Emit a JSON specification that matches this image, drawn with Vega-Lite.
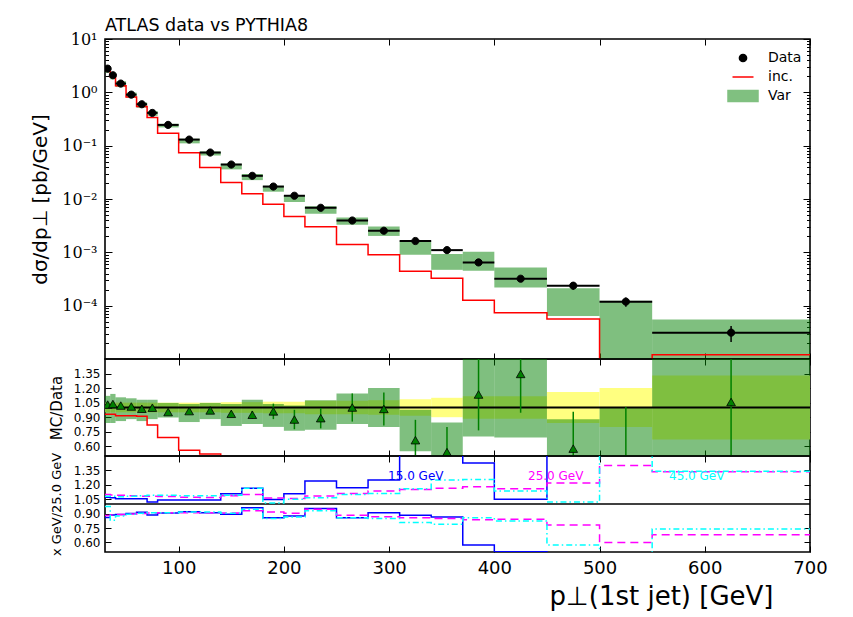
{
  "$schema": "https://vega.github.io/schema/vega-lite/v6.json",
  "background": "white",
  "padding": {"left": 29, "top": 15, "right": 20, "bottom": 5},
  "spacing": 0,
  "bounds": "flush",
  "config": {
    "view": {"stroke": "black", "strokeWidth": 1.6},
    "font": "DejaVu Sans",
    "axis": {"grid": false, "domain": false, "tickColor": "black", "tickWidth": 1, "labelColor": "black", "titleColor": "black", "labelFont": "DejaVu Sans", "titleFont": "DejaVu Sans", "titleFontWeight": "normal"}
  },
  "datasets": {
    "bins": [
      {"s": "Data", "lo": 30, "hi": 35, "x": 32.5, "d": 2.78, "dlo": 2.641, "dhi": 2.919, "vlo": 2.335, "vhi": 3.114, "r": 1.03, "rlo": 1.01, "rhi": 1.05, "rvlo": 0.84, "rvhi": 1.12, "ylo": 0.95, "yhi": 1.05},
      {"s": "Data", "lo": 35, "hi": 40, "x": 37.5, "d": 2.09, "dlo": 1.986, "dhi": 2.195, "vlo": 1.756, "vhi": 2.383, "r": 1.036, "rlo": 1.016, "rhi": 1.056, "rvlo": 0.84, "rvhi": 1.14, "ylo": 0.95, "yhi": 1.05},
      {"s": "Data", "lo": 40, "hi": 50, "x": 45, "d": 1.46, "dlo": 1.387, "dhi": 1.533, "vlo": 1.256, "vhi": 1.613, "r": 1.02, "rlo": 1.0, "rhi": 1.04, "rvlo": 0.86, "rvhi": 1.105, "ylo": 0.95, "yhi": 1.05},
      {"s": "Data", "lo": 50, "hi": 60, "x": 55, "d": 0.905, "dlo": 0.86, "dhi": 0.95, "vlo": 0.796, "vhi": 0.991, "r": 1.01, "rlo": 0.99, "rhi": 1.03, "rvlo": 0.88, "rvhi": 1.095, "ylo": 0.95, "yhi": 1.05},
      {"s": "Data", "lo": 60, "hi": 70, "x": 65, "d": 0.598, "dlo": 0.568, "dhi": 0.628, "vlo": 0.514, "vhi": 0.646, "r": 0.987, "rlo": 0.967, "rhi": 1.007, "rvlo": 0.86, "rvhi": 1.08, "ylo": 0.95, "yhi": 1.05},
      {"s": "Data", "lo": 70, "hi": 80, "x": 75, "d": 0.411, "dlo": 0.39, "dhi": 0.432, "vlo": 0.362, "vhi": 0.444, "r": 0.998, "rlo": 0.978, "rhi": 1.018, "rvlo": 0.88, "rvhi": 1.08, "ylo": 0.95, "yhi": 1.05},
      {"s": "Data", "lo": 80, "hi": 100, "x": 90, "d": 0.245, "dlo": 0.233, "dhi": 0.257, "vlo": 0.22, "vhi": 0.257, "r": 0.953, "rlo": 0.933, "rhi": 0.973, "rvlo": 0.897, "rvhi": 1.047, "ylo": 0.95, "yhi": 1.05},
      {"s": "Data", "lo": 100, "hi": 120, "x": 110, "d": 0.13, "dlo": 0.1235, "dhi": 0.1365, "vlo": 0.1105, "vhi": 0.1347, "r": 0.963, "rlo": 0.943, "rhi": 0.983, "rvlo": 0.85, "rvhi": 1.036, "ylo": 0.95, "yhi": 1.05},
      {"s": "Data", "lo": 120, "hi": 140, "x": 130, "d": 0.0743, "dlo": 0.0706, "dhi": 0.078, "vlo": 0.0654, "vhi": 0.0778, "r": 0.97, "rlo": 0.95, "rhi": 0.99, "rvlo": 0.88, "rvhi": 1.047, "ylo": 0.95, "yhi": 1.05},
      {"s": "Data", "lo": 140, "hi": 160, "x": 150, "d": 0.0443, "dlo": 0.0419, "dhi": 0.0467, "vlo": 0.0359, "vhi": 0.0459, "r": 0.935, "rlo": 0.905, "rhi": 0.965, "rvlo": 0.81, "rvhi": 1.036, "ylo": 0.945, "yhi": 1.055},
      {"s": "Data", "lo": 160, "hi": 180, "x": 170, "d": 0.0272, "dlo": 0.0257, "dhi": 0.0287, "vlo": 0.0226, "vhi": 0.0294, "r": 0.925, "rlo": 0.885, "rhi": 0.965, "rvlo": 0.83, "rvhi": 1.08, "ylo": 0.945, "yhi": 1.055},
      {"s": "Data", "lo": 180, "hi": 200, "x": 190, "d": 0.0171, "dlo": 0.01607, "dhi": 0.01813, "vlo": 0.0137, "vhi": 0.0177, "r": 0.96, "rlo": 0.88, "rhi": 1.04, "rvlo": 0.8, "rvhi": 1.036, "ylo": 0.94, "yhi": 1.06},
      {"s": "Data", "lo": 200, "hi": 220, "x": 210, "d": 0.0115, "dlo": 0.01081, "dhi": 0.01219, "vlo": 0.00874, "vhi": 0.01173, "r": 0.876, "rlo": 0.776, "rhi": 0.976, "rvlo": 0.76, "rvhi": 1.02, "ylo": 0.94, "yhi": 1.06},
      {"s": "Data", "lo": 220, "hi": 250, "x": 235, "d": 0.00684, "dlo": 0.00636, "dhi": 0.00732, "vlo": 0.00527, "vhi": 0.00735, "r": 0.89, "rlo": 0.785, "rhi": 0.995, "rvlo": 0.77, "rvhi": 1.075, "ylo": 0.93, "yhi": 1.07},
      {"s": "Data", "lo": 250, "hi": 280, "x": 265, "d": 0.00395, "dlo": 0.00367, "dhi": 0.00423, "vlo": 0.00328, "vhi": 0.00452, "r": 1.0, "rlo": 0.855, "rhi": 1.145, "rvlo": 0.83, "rvhi": 1.145, "ylo": 0.93, "yhi": 1.07},
      {"s": "Data", "lo": 280, "hi": 310, "x": 295, "d": 0.00254, "dlo": 0.00235, "dhi": 0.00273, "vlo": 0.00203, "vhi": 0.00305, "r": 0.985, "rlo": 0.815, "rhi": 1.155, "rvlo": 0.8, "rvhi": 1.2, "ylo": 0.925, "yhi": 1.075},
      {"s": "Data", "lo": 310, "hi": 340, "x": 325, "d": 0.00163, "dlo": 0.00149, "dhi": 0.00177, "vlo": 0.000897, "vhi": 0.00159, "r": 0.663, "rlo": 0.453, "rhi": 0.873, "rvlo": 0.55, "rvhi": 0.977, "ylo": 0.915, "yhi": 1.085},
      {"s": "Data", "lo": 340, "hi": 370, "x": 355, "d": 0.0011, "dlo": 0.00099, "dhi": 0.00121, "vlo": 0.00047, "vhi": 0.00093, "r": 0.54, "rlo": 0.28, "rhi": 0.8, "rvlo": 0.43, "rvhi": 0.845, "ylo": 0.9, "yhi": 1.1},
      {"s": "Data", "lo": 370, "hi": 400, "x": 385, "d": 0.000647, "dlo": 0.000573, "dhi": 0.000721, "vlo": 0.00045, "vhi": 0.00102, "r": 1.134, "rlo": 0.764, "rhi": 1.52, "rvlo": 0.7, "rvhi": 1.58, "ylo": 0.885, "yhi": 1.115},
      {"s": "Data", "lo": 400, "hi": 450, "x": 425, "d": 0.00032, "dlo": 0.000283, "dhi": 0.000357, "vlo": 0.00022, "vhi": 0.00052, "r": 1.346, "rlo": 0.946, "rhi": 1.746, "rvlo": 0.69, "rvhi": 1.63, "ylo": 0.885, "yhi": 1.115},
      {"s": "Data", "lo": 450, "hi": 500, "x": 475, "d": 0.000237, "dlo": 0.000199, "dhi": 0.000275, "vlo": 0.000064, "vhi": 0.000211, "r": 0.576, "rlo": 0.196, "rhi": 0.956, "rvlo": 0.27, "rvhi": 0.88, "ylo": 0.84, "yhi": 1.16},
      {"s": "Data", "lo": 500, "hi": 550, "x": 525, "d": 0.000119, "dlo": 0.0000952, "dhi": 0.0001428, "vlo": 0.000005, "vhi": 0.000124, "r": 0.45, "rlo": 0.0, "rhi": 1.005, "rvlo": 0.04, "rvhi": 1.0, "ylo": 0.8, "yhi": 1.2},
      {"s": "Data", "lo": 550, "hi": 700, "x": 625, "d": 0.0000312, "dlo": 0.0000209, "dhi": 0.0000415, "vlo": 0.000005, "vhi": 0.000055, "r": 1.057, "rlo": 0.457, "rhi": 1.657, "rvlo": 0.2, "rvhi": 1.76, "ylo": 0.67, "yhi": 1.33}
    ],
    "edges": [
      {"e": 30, "inc": 2.58, "rinc": 0.93, "bu": 1.07, "bd": 0.86, "mu": 1.1, "md": 0.88, "cu": 1.08, "cd": 0.975},
      {"e": 35, "inc": 1.94, "rinc": 0.93, "bu": 1.065, "bd": 0.885, "mu": 1.095, "md": 0.885, "cu": 1.08, "cd": 0.83},
      {"e": 40, "inc": 1.33, "rinc": 0.915, "bu": 1.055, "bd": 0.89, "mu": 1.09, "md": 0.89, "cu": 1.076, "cd": 0.875},
      {"e": 50, "inc": 0.82, "rinc": 0.915, "bu": 1.055, "bd": 0.9, "mu": 1.085, "md": 0.895, "cu": 1.08, "cd": 0.893},
      {"e": 60, "inc": 0.54, "rinc": 0.91, "bu": 1.055, "bd": 0.915, "mu": 1.08, "md": 0.9, "cu": 1.085, "cd": 0.903},
      {"e": 70, "inc": 0.337, "rinc": 0.82, "bu": 1.021, "bd": 0.885, "mu": 1.08, "md": 0.905, "cu": 1.09, "cd": 0.91},
      {"e": 80, "inc": 0.171, "rinc": 0.69, "bu": 1.041, "bd": 0.905, "mu": 1.078, "md": 0.91, "cu": 1.09, "cd": 0.91},
      {"e": 100, "inc": 0.0733, "rinc": 0.56, "bu": 1.041, "bd": 0.92, "mu": 1.07, "md": 0.91, "cu": 1.085, "cd": 0.917},
      {"e": 120, "inc": 0.0389, "rinc": 0.52, "bu": 1.041, "bd": 0.91, "mu": 1.068, "md": 0.91, "cu": 1.085, "cd": 0.917},
      {"e": 140, "inc": 0.0204, "rinc": 0.46, "bu": 1.107, "bd": 0.893, "mu": 1.085, "md": 0.905, "cu": 1.09, "cd": 0.903},
      {"e": 160, "inc": 0.0125, "rinc": 0.46, "bu": 1.163, "bd": 0.962, "mu": 1.1, "md": 0.93, "cu": 1.165, "cd": 0.945},
      {"e": 180, "inc": 0.008, "rinc": 0.47, "bu": 1.048, "bd": 0.858, "mu": 1.062, "md": 0.917, "cu": 1.01, "cd": 0.848},
      {"e": 200, "inc": 0.0047, "rinc": 0.41, "bu": 1.107, "bd": 0.876, "mu": 1.058, "md": 0.903, "cu": 1.05, "cd": 0.865},
      {"e": 220, "inc": 0.00302, "rinc": 0.44, "bu": 1.239, "bd": 0.952, "mu": 1.083, "md": 0.945, "cu": 1.066, "cd": 0.93},
      {"e": 250, "inc": 0.00141, "rinc": 0.36, "bu": 1.169, "bd": 0.858, "mu": 1.11, "md": 0.882, "cu": 1.1, "cd": 0.858},
      {"e": 280, "inc": 0.0009, "rinc": 0.35, "bu": 1.249, "bd": 0.91, "mu": 1.135, "md": 0.868, "cu": 1.11, "cd": 0.848},
      {"e": 310, "inc": 0.00044, "rinc": 0.27, "bu": 1.7, "bd": 0.882, "mu": 1.152, "md": 0.858, "cu": 1.16, "cd": 0.806},
      {"e": 340, "inc": 0.000325, "rinc": 0.3, "bu": 1.7, "bd": 0.865, "mu": 1.165, "md": 0.85, "cu": 1.25, "cd": 0.79},
      {"e": 370, "inc": 0.000126, "rinc": 0.19, "bu": 1.428, "bd": 0.572, "mu": 1.18, "md": 0.835, "cu": 1.256, "cd": 0.858},
      {"e": 400, "inc": 0.000074, "rinc": 0.23, "bu": 1.049, "bd": 0.503, "mu": 1.16, "md": 0.841, "cu": 1.135, "cd": 0.824},
      {"e": 450, "inc": 0.000056, "rinc": 0.24, "bu": 1.7, "bd": 0.3, "mu": 1.22, "md": 0.78, "cu": 1.02, "cd": 0.572},
      {"e": 500, "inc": 0.0000001, "rinc": 0.0, "bu": 1.7, "bd": 0.3, "mu": 1.4, "md": 0.6, "cu": 1.6, "cd": 0.3},
      {"e": 550, "inc": 0.000012, "rinc": 0.38, "bu": 1.7, "bd": 0.3, "mu": 1.335, "md": 0.68, "cu": 1.34, "cd": 0.74},
      {"e": 700, "inc": 0.000012, "rinc": 0.38, "bu": 1.7, "bd": 0.3, "mu": 1.335, "md": 0.68, "cu": 1.34, "cd": 0.74}
    ],
    "labels": [
      {"x": 299, "y": 1.29, "t": "15.0 GeV"},
      {"x": 432, "y": 1.29, "t": "25.0 GeV"},
      {"x": 566, "y": 1.29, "t": "45.0 GeV"}
    ],
    "unity": [{"ref": 1}]
  },
  "resolve": {"scale": {"color": "independent", "stroke": "independent", "shape": "independent"}, "legend": {"color": "independent", "stroke": "independent", "shape": "independent"}},
  "vconcat": [
    {
      "width": 705,
      "height": 320,
      "title": {"text": "ATLAS data vs PYTHIA8", "anchor": "start", "frame": "group", "fontSize": 17.5, "fontWeight": "normal", "font": "DejaVu Sans", "color": "black", "offset": -3},
      "resolve": {"scale": {"x": "independent", "y": "independent"}},
      "layer": [
        {
          "data": {"name": "bins"},
          "mark": {"type": "rect", "color": "#008000", "opacity": 0.5, "clip": true},
          "encoding": {
            "x": {"field": "lo", "type": "quantitative", "scale": {"domain": [30, 700], "nice": false, "zero": false}, "axis": {"orient": "bottom", "values": [100, 200, 300, 400, 500, 600, 700], "labels": false, "tickSize": -6, "title": null}},
            "x2": {"field": "hi"},
            "y": {"field": "vlo", "type": "quantitative", "scale": {"type": "log", "domain": [0.00001, 10], "nice": false}, "axis": {"orient": "left", "values": [0.0001, 0.001, 0.01, 0.1, 1, 10], "tickSize": -7, "labelPadding": 15, "labelFont": "DejaVu Serif", "labelFontSize": 16, "labelOverlap": false, "labelExpr": "'10' + replace(replace(replace(replace(replace(replace('' + round(log(datum.value) / LN10), '-', '⁻'), '0', '⁰'), '1', '¹'), '2', '²'), '3', '³'), '4', '⁴')", "title": "dσ/dp⊥ [pb/GeV]", "titleFontSize": 20, "titlePadding": 11}},
            "y2": {"field": "vhi"}
          }
        },
        {
          "data": {"name": "edges"},
          "mark": {"type": "line", "interpolate": "step-after", "color": "red", "strokeWidth": 1.5, "clip": true},
          "encoding": {
            "x": {"field": "e", "type": "quantitative", "scale": {"domain": [30, 700], "nice": false, "zero": false}, "axis": {"orient": "top", "values": [100, 200, 300, 400, 500, 600, 700], "labels": false, "tickSize": -6, "title": null}},
            "y": {"field": "inc", "type": "quantitative", "scale": {"type": "log", "domain": [0.00001, 10], "nice": false}, "axis": {"orient": "right", "values": [0.0001, 0.001, 0.01, 0.1, 1, 10], "tickSize": -7, "labels": false, "title": null}}
          }
        },
        {
          "data": {"name": "bins"},
          "mark": {"type": "rule", "color": "black", "strokeWidth": 2, "clip": true},
          "encoding": {
            "x": {"field": "lo", "type": "quantitative", "scale": {"domain": [30, 700], "nice": false, "zero": false}, "axis": null},
            "x2": {"field": "hi"},
            "y": {"field": "d", "type": "quantitative", "scale": {"type": "log", "domain": [0.00001, 10], "nice": false}, "axis": {"orient": "left", "values": [0.00002, 0.00003, 0.00004, 0.00005, 0.00006, 0.00007, 0.00008, 0.00009, 0.0002, 0.0003, 0.0004, 0.0005, 0.0006, 0.0007, 0.0008, 0.0009, 0.002, 0.003, 0.004, 0.005, 0.006, 0.007, 0.008, 0.009, 0.02, 0.03, 0.04, 0.05, 0.06, 0.07, 0.08, 0.09, 0.2, 0.3, 0.4, 0.5, 0.6, 0.7, 0.8, 0.9, 2, 3, 4, 5, 6, 7, 8, 9], "tickSize": -3.5, "labels": false, "title": null}}
          }
        },
        {
          "data": {"name": "bins"},
          "mark": {"type": "rule", "color": "black", "strokeWidth": 1.5, "clip": true},
          "encoding": {
            "x": {"field": "x", "type": "quantitative", "scale": {"domain": [30, 700], "nice": false, "zero": false}, "axis": null},
            "y": {"field": "dlo", "type": "quantitative", "scale": {"type": "log", "domain": [0.00001, 10], "nice": false}, "axis": {"orient": "right", "values": [0.00002, 0.00003, 0.00004, 0.00005, 0.00006, 0.00007, 0.00008, 0.00009, 0.0002, 0.0003, 0.0004, 0.0005, 0.0006, 0.0007, 0.0008, 0.0009, 0.002, 0.003, 0.004, 0.005, 0.006, 0.007, 0.008, 0.009, 0.02, 0.03, 0.04, 0.05, 0.06, 0.07, 0.08, 0.09, 0.2, 0.3, 0.4, 0.5, 0.6, 0.7, 0.8, 0.9, 2, 3, 4, 5, 6, 7, 8, 9], "tickSize": -3.5, "labels": false, "title": null}},
            "y2": {"field": "dhi"}
          }
        },
        {
          "data": {"name": "bins"},
          "mark": {"type": "point", "filled": true, "size": 400, "strokeWidth": 1, "opacity": 1, "clip": true},
          "encoding": {
            "x": {"field": "x", "type": "quantitative", "scale": {"domain": [30, 700], "nice": false, "zero": false}, "axis": null},
            "y": {"field": "d", "type": "quantitative", "scale": {"type": "log", "domain": [0.00001, 10], "nice": false}, "axis": null},
            "color": {
              "field": "s", "type": "nominal",
              "scale": {"domain": ["Data", "inc.", "Var"], "range": ["black", "red", "#80c080"]},
              "legend": {"title": null, "orient": "top-right", "offset": 8, "symbolSize": 400, "symbolStrokeWidth": 1.5, "labelFontSize": 14, "labelFont": "DejaVu Sans", "labelColor": "black", "labelOffset": 14, "rowPadding": 1}
            },
            "stroke": {
              "field": "s", "type": "nominal",
              "scale": {"domain": ["Data", "inc.", "Var"], "range": ["black", "red", "#80c080"]},
              "legend": {"title": null, "orient": "top-right", "offset": 8, "symbolSize": 400, "symbolStrokeWidth": 1.5, "labelFontSize": 14, "labelFont": "DejaVu Sans", "labelColor": "black", "labelOffset": 14, "rowPadding": 1}
            },
            "shape": {
              "field": "s", "type": "nominal",
              "scale": {"domain": ["Data", "inc.", "Var"], "range": ["M0.36,0A0.36,0.36 0 1 1 -0.36,0A0.36,0.36 0 1 1 0.36,0Z", "M-1.05,0H1.05", "M-1.5,-0.55H1.5V0.55H-1.5Z"]},
              "legend": {"title": null, "orient": "top-right", "offset": 8, "symbolSize": 400, "symbolStrokeWidth": 1.5, "labelFontSize": 14, "labelFont": "DejaVu Sans", "labelColor": "black", "labelOffset": 14, "rowPadding": 1}
            }
          }
        }
      ]
    },
    {
      "width": 705,
      "height": 97,
      "resolve": {"scale": {"x": "independent", "y": "independent"}},
      "layer": [
        {
          "data": {"name": "bins"},
          "mark": {"type": "rect", "color": "#ffff80", "clip": true},
          "encoding": {
            "x": {"field": "lo", "type": "quantitative", "scale": {"domain": [30, 700], "nice": false, "zero": false}, "axis": {"orient": "bottom", "values": [100, 200, 300, 400, 500, 600, 700], "labels": false, "tickSize": -6, "title": null}},
            "x2": {"field": "hi"},
            "y": {"field": "ylo", "type": "quantitative", "scale": {"domain": [0.5, 1.5], "nice": false, "zero": false}, "axis": {"orient": "left", "values": [0.6, 0.75, 0.9, 1.05, 1.2, 1.35], "format": ".2f", "tickSize": -6, "labelPadding": 11, "labelFontSize": 12, "title": "MC/Data", "titleFontSize": 15, "titlePadding": 9}},
            "y2": {"field": "yhi"}
          }
        },
        {
          "data": {"name": "bins"},
          "mark": {"type": "rect", "color": "#008000", "opacity": 0.5, "clip": true},
          "encoding": {
            "x": {"field": "lo", "type": "quantitative", "scale": {"domain": [30, 700], "nice": false, "zero": false}, "axis": {"orient": "top", "values": [100, 200, 300, 400, 500, 600, 700], "labels": false, "tickSize": -6, "title": null}},
            "x2": {"field": "hi"},
            "y": {"field": "rvlo", "type": "quantitative", "scale": {"domain": [0.5, 1.5], "nice": false, "zero": false}, "axis": {"orient": "right", "values": [0.6, 0.75, 0.9, 1.05, 1.2, 1.35], "tickSize": -6, "labels": false, "title": null}},
            "y2": {"field": "rvhi"}
          }
        },
        {
          "data": {"name": "unity"},
          "mark": {"type": "rule", "color": "black", "strokeWidth": 2},
          "encoding": {
            "y": {"field": "ref", "type": "quantitative", "scale": {"domain": [0.5, 1.5], "nice": false, "zero": false}, "axis": null}
          }
        },
        {
          "data": {"name": "edges"},
          "mark": {"type": "line", "interpolate": "step-after", "color": "red", "strokeWidth": 1.5, "clip": true},
          "encoding": {
            "x": {"field": "e", "type": "quantitative", "scale": {"domain": [30, 700], "nice": false, "zero": false}, "axis": null},
            "y": {"field": "rinc", "type": "quantitative", "scale": {"domain": [0.5, 1.5], "nice": false, "zero": false}, "axis": null}
          }
        },
        {
          "data": {"name": "bins"},
          "mark": {"type": "rule", "color": "#008000", "strokeWidth": 1.5, "clip": true},
          "encoding": {
            "x": {"field": "x", "type": "quantitative", "scale": {"domain": [30, 700], "nice": false, "zero": false}, "axis": null},
            "y": {"field": "rlo", "type": "quantitative", "scale": {"domain": [0.5, 1.5], "nice": false, "zero": false}, "axis": null},
            "y2": {"field": "rhi"}
          }
        },
        {
          "data": {"name": "bins"},
          "mark": {"type": "point", "shape": "triangle-up", "filled": true, "fill": "#008000", "stroke": "black", "strokeWidth": 0.8, "size": 75, "opacity": 1, "clip": true},
          "encoding": {
            "x": {"field": "x", "type": "quantitative", "scale": {"domain": [30, 700], "nice": false, "zero": false}, "axis": null},
            "y": {"field": "r", "type": "quantitative", "scale": {"domain": [0.5, 1.5], "nice": false, "zero": false}, "axis": null}
          }
        }
      ]
    },
    {
      "width": 705,
      "height": 96,
      "resolve": {"scale": {"x": "independent", "y": "independent"}},
      "layer": [
        {
          "data": {"name": "unity"},
          "mark": {"type": "rule", "color": "black", "strokeWidth": 1.5},
          "encoding": {
            "y": {"field": "ref", "type": "quantitative", "scale": {"domain": [0.5, 1.5], "nice": false, "zero": false}, "axis": null}
          }
        },
        {
          "data": {"name": "edges"},
          "mark": {"type": "line", "interpolate": "step-after", "color": "#0000ff", "strokeWidth": 1.5, "clip": true},
          "encoding": {
            "x": {"field": "e", "type": "quantitative", "scale": {"domain": [30, 700], "nice": false, "zero": false}, "axis": {"orient": "bottom", "values": [100, 200, 300, 400, 500, 600, 700], "tickSize": -6, "labelPadding": 13, "labelFontSize": 18, "labelFlush": false, "labelOverlap": false, "title": "p⊥(1st jet) [GeV]", "titleFontSize": 26, "titleX": 668, "titleAlign": "right", "titlePadding": 6}},
            "y": {"field": "bu", "type": "quantitative", "scale": {"domain": [0.5, 1.5], "nice": false, "zero": false}, "axis": {"orient": "left", "values": [0.6, 0.75, 0.9, 1.05, 1.2, 1.35], "format": ".2f", "tickSize": -6, "labelPadding": 11, "labelFontSize": 12, "title": "x GeV/25.0 GeV", "titleFontSize": 13, "titlePadding": 10}}
          }
        },
        {
          "data": {"name": "edges"},
          "mark": {"type": "line", "interpolate": "step-after", "color": "#0000ff", "strokeWidth": 1.5, "clip": true},
          "encoding": {
            "x": {"field": "e", "type": "quantitative", "scale": {"domain": [30, 700], "nice": false, "zero": false}, "axis": {"orient": "top", "values": [100, 200, 300, 400, 500, 600, 700], "labels": false, "tickSize": -6, "title": null}},
            "y": {"field": "bd", "type": "quantitative", "scale": {"domain": [0.5, 1.5], "nice": false, "zero": false}, "axis": {"orient": "right", "values": [0.6, 0.75, 0.9, 1.05, 1.2, 1.35], "tickSize": -6, "labels": false, "title": null}}
          }
        },
        {
          "data": {"name": "edges"},
          "mark": {"type": "line", "interpolate": "step-after", "color": "#ff00ff", "strokeWidth": 1.5, "strokeDash": [8, 5], "clip": true},
          "encoding": {
            "x": {"field": "e", "type": "quantitative", "scale": {"domain": [30, 700], "nice": false, "zero": false}, "axis": null},
            "y": {"field": "mu", "type": "quantitative", "scale": {"domain": [0.5, 1.5], "nice": false, "zero": false}, "axis": null}
          }
        },
        {
          "data": {"name": "edges"},
          "mark": {"type": "line", "interpolate": "step-after", "color": "#ff00ff", "strokeWidth": 1.5, "strokeDash": [8, 5], "clip": true},
          "encoding": {
            "x": {"field": "e", "type": "quantitative", "scale": {"domain": [30, 700], "nice": false, "zero": false}, "axis": null},
            "y": {"field": "md", "type": "quantitative", "scale": {"domain": [0.5, 1.5], "nice": false, "zero": false}, "axis": null}
          }
        },
        {
          "data": {"name": "edges"},
          "mark": {"type": "line", "interpolate": "step-after", "color": "#00ffff", "strokeWidth": 1.5, "strokeDash": [6, 3, 1.5, 3], "clip": true},
          "encoding": {
            "x": {"field": "e", "type": "quantitative", "scale": {"domain": [30, 700], "nice": false, "zero": false}, "axis": null},
            "y": {"field": "cu", "type": "quantitative", "scale": {"domain": [0.5, 1.5], "nice": false, "zero": false}, "axis": null}
          }
        },
        {
          "data": {"name": "edges"},
          "mark": {"type": "line", "interpolate": "step-after", "color": "#00ffff", "strokeWidth": 1.5, "strokeDash": [6, 3, 1.5, 3], "clip": true},
          "encoding": {
            "x": {"field": "e", "type": "quantitative", "scale": {"domain": [30, 700], "nice": false, "zero": false}, "axis": null},
            "y": {"field": "cd", "type": "quantitative", "scale": {"domain": [0.5, 1.5], "nice": false, "zero": false}, "axis": null}
          }
        },
        {
          "data": {"name": "labels"},
          "mark": {"type": "text", "align": "left", "baseline": "middle", "fontSize": 12, "font": "DejaVu Sans"},
          "encoding": {
            "x": {"field": "x", "type": "quantitative", "scale": {"domain": [30, 700], "nice": false, "zero": false}, "axis": null},
            "y": {"field": "y", "type": "quantitative", "scale": {"domain": [0.5, 1.5], "nice": false, "zero": false}, "axis": null},
            "text": {"field": "t"},
            "color": {"field": "t", "type": "nominal", "scale": {"domain": ["15.0 GeV", "25.0 GeV", "45.0 GeV"], "range": ["#0000ff", "#ff00ff", "#00ffff"]}, "legend": null}
          }
        }
      ]
    }
  ]
}
